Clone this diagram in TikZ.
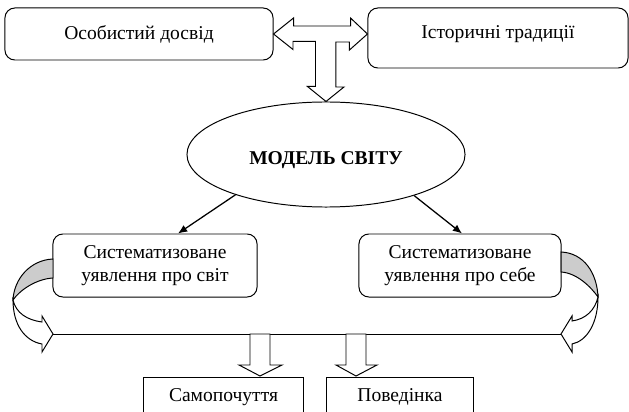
\documentclass[tikz,border=0pt]{standalone}
\usepackage{fontspec}
\setmainfont{Liberation Serif}
\usepackage{tikz}
\usetikzlibrary{calc}
\usetikzlibrary{arrows.meta}
\usetikzlibrary{shapes.geometric}
\definecolor{backface}{RGB}{204, 204, 204}

\tikzset{
  roundbox/.style={draw, rounded corners=7pt, line width=0.7pt, inner sep=0pt, align=center},
  squarebox/.style={draw, line width=0.7pt, inner sep=0pt, align=center},
  blockarrow/.style={draw, fill=white, line width=0.7pt, line join=miter},
  thinarrow/.style={-{Latex[length=6.5pt, width=5.5pt]}, line width=0.9pt},
}

\begin{document}
\begin{tikzpicture}[x=0.025cm, y=-0.025cm, font=\fontsize{13.9}{16.4}\selectfont]
            \useasboundingbox (0,0) rectangle (629,412);
            % boxes
            \node[roundbox, minimum width=6.70cm, minimum height=1.300cm]                               (pers)  at (139.0, 34.0) {Особистий досвід};
            \node[roundbox, minimum width=6.50cm, minimum height=1.500cm, text height=0.7em, text depth=0.6em] (hist)  at (498.0, 38.0) {Історичні традиції};
            \node[ellipse, draw, line width=0.7pt, inner sep=0pt, minimum width=6.95cm, minimum height=2.625cm,
                  text height=14pt, text depth=0pt]                                                     (model) at (326.0,154.5) {\textbf{МОДЕЛЬ СВІТУ}};
            \node[roundbox, minimum width=5.10cm, minimum height=1.575cm]                               (sys1)  at (155.0,265.5) {Систематизоване\\уявлення про світ};
            \node[roundbox, minimum width=5.05cm, minimum height=1.575cm]                               (sys2)  at (460.0,265.5) {Систематизоване\\уявлення про себе};
            \node[squarebox, minimum width=3.975cm, minimum height=1.0cm]                               (well)  at (223.5,397.0) {Самопочуття};
            \node[squarebox, minimum width=3.65cm, minimum height=1.0cm]                                (behav) at (400.0,397.0) {Поведінка};
            % block arrow between the top boxes and down to the model
            \draw[blockarrow] (pers.east) -- ++(20,-16) -- ++(0,8) -- ++(57,0) -- ++(0,-8)
                 -- (hist.west |- pers.east) -- ++(-18,16) -- ++(0,-8) -- ++(-13.5,0)
                 -- ++(0,45) -- ++(8,0) -- (model.north) -- ++(-18.5,-15) -- ++(8,0)
                 -- ++(0,-45) -- ++(-22.5,0) -- ++(0,8) -- cycle;
            % thin arrows
            \draw[thinarrow] (model.204) -- ($(sys1.north)+(23,0)$);
            \draw[thinarrow] (model.335) -- ($(sys2.north)+(2,0)$);
            % bus line
            \coordinate (busL) at ( 53,334);
            \coordinate (busR) at (561,334);
            \draw[line width=0.7pt] (busL) -- (busR);
            % curved arrows
            \filldraw[line width=0.7pt, fill=backface] ( 53,259) .. controls ( 30,260) and ( 14,279) .. ( 13,300)
                 .. controls ( 20,290) and ( 36,279) .. ( 53,278) -- cycle;
            \draw[blockarrow] ( 13,300) .. controls ( 13,325) and ( 25,341) .. ( 42,344) -- ( 42,352) -- (busL)
                 -- ( 42,316) -- ( 42,322) .. controls ( 27,320) and ( 16,313) .. ( 13,300) -- cycle;
            \filldraw[line width=0.7pt, fill=backface] (561,252) .. controls (584,253) and (597,273) .. (598,297)
                 .. controls (591,287) and (577,273) .. (561,272) -- cycle;
            \draw[blockarrow] (598,297) .. controls (598,323) and (587,341) .. (572,344) -- (572,352) -- (busR)
                 -- (572,316) -- (572,321) .. controls (586,319) and (595,310) .. (598,297) -- cycle;
            % block arrows down to the bottom boxes
            \draw[blockarrow] (250,334) -- (270,334) -- (270,365) -- (282,365) -- (260,376) -- (239,365) -- (250,365) -- cycle;
            \draw[blockarrow] (346,334) -- (366,334) -- (366,365) -- (377,365) -- (356,376) -- (336,365) -- (346,365) -- cycle;
\end{tikzpicture}
\end{document}
